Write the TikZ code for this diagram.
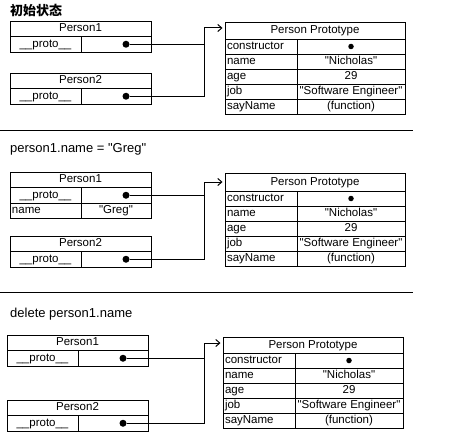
\documentclass[tikz,border=0pt]{standalone}
\usepackage{fontspec}
\setmainfont{Liberation Sans}
\newfontfamily\cjkfont{Noto Sans CJK SC}
\usetikzlibrary{arrows.meta,calc}
\newcommand{\qq}[1]{\textquotedbl#1\textquotedbl}
\tikzset{
  cell/.style={draw, line width=0.9pt, inner sep=0pt, outer sep=0pt, anchor=north west,
    font=\fontsize{11.5}{13}\selectfont, text height=8.5pt, text depth=2.5pt},
  hcell/.style={cell, minimum width=180pt},
  lcell/.style={cell, minimum height=15pt, text width=68pt, inner xsep=2pt, align=left},
  rcell/.style={cell, minimum height=15pt, minimum width=108pt},
  phead/.style={cell, minimum width=141pt, minimum height=15.5pt},
  pl/.style={cell, minimum width=71pt, minimum height=15.5pt},
  pln/.style={cell, minimum height=15.5pt, text width=67pt, inner xsep=2pt, align=left},
  pr/.style={cell, minimum width=70pt, minimum height=15.5pt},
  bigdot/.style={circle, fill, inner sep=0pt, minimum size=7pt},
  smalldot/.style={circle, fill, inner sep=0pt, minimum size=5.5pt},
  title/.style={anchor=west, inner sep=0pt, font=\fontsize{13}{15}\selectfont},
  conn/.style={line width=1pt},
  arr/.style={conn, -{Straight Barb[length=4pt,width=7pt]}, shorten >=2.5pt},
  sep/.style={line width=1pt}
}
\newcommand{\ProtoTable}[4]{%
  \node[hcell, minimum height=#4pt] (#1h) at (#2,#3) {Person Prototype};
  \node[lcell] (#1k1) at (#1h.south west) {constructor};
  \node[rcell] (#1v1) at (#1k1.north east) {};
  \node[smalldot] (#1c) at (#1v1.center) {};
  \node[lcell] (#1k2) at (#1k1.south west) {name};
  \node[rcell] (#1v2) at (#1k2.north east) {\qq{Nicholas}};
  \node[lcell] (#1k3) at (#1k2.south west) {age};
  \node[rcell] (#1v3) at (#1k3.north east) {29};
  \node[lcell] (#1k4) at (#1k3.south west) {job};
  \node[rcell] (#1v4) at (#1k4.north east) {\qq{Software Engineer}};
  \node[lcell] (#1k5) at (#1k4.south west) {sayName};
  \node[rcell] (#1v5) at (#1k5.north east) {(function)};
}
\begin{document}
\begin{tikzpicture}[x=1pt,y=-1pt]
\fill[white] (0,0) rectangle (452,441);
\useasboundingbox (0,0) rectangle (452,441);

% ---------- Section 1 ----------
\node[title] (t1) at (10,10) {\cjkfont\bfseries 初始状态};
\node[phead] (a1) at (10,21) {Person1};
\node[pl] (a1l) at (a1.south west) {\_\_proto\_\_};
\node[pr] (a1r) at (a1l.north east) {};
\node[bigdot] (a1d) at ([xshift=-25pt]a1r.east) {};
\node[phead] (a2) at (10,73) {Person2};
\node[pl] (a2l) at (a2.south west) {\_\_proto\_\_};
\node[pr] (a2r) at (a2l.north east) {};
\node[bigdot] (a2d) at ([xshift=-25pt]a2r.east) {};
\ProtoTable{pa}{225}{22}{17}
\coordinate (ja) at (204,28);
\draw[conn] (a1d) -| (ja);
\draw[arr] (a2d) -| (ja) -- (pah.west |- ja);

\draw[sep] (0,130) -- (413,130);

% ---------- Section 2 ----------
\node[title] (t2) at (10,149) {person1.name = \qq{Greg}};
\node[phead] (b1) at (10,172) {Person1};
\node[pl] (b1l) at (b1.south west) {\_\_proto\_\_};
\node[pr] (b1r) at (b1l.north east) {};
\node[bigdot] (b1d) at ([xshift=-25pt]b1r.east) {};
\node[pln] (b1n) at (b1l.south west) {name};
\node[pr] (b1g) at (b1n.north east) {\qq{Greg}};
\node[phead] (b2) at (10,236) {Person2};
\node[pl] (b2l) at (b2.south west) {\_\_proto\_\_};
\node[pr] (b2r) at (b2l.north east) {};
\node[bigdot] (b2d) at ([xshift=-25pt]b2r.east) {};
\ProtoTable{pb}{225}{173}{18}
\coordinate (jb) at (204,182);
\draw[conn] (b1d) -| (jb);
\draw[arr] (b2d) -| (jb) -- (pbh.west |- jb);

\draw[sep] (0,292) -- (413,292);

% ---------- Section 3 ----------
\node[title] (t3) at (10,314) {delete person1.name};
\node[phead] (c1) at (7,335) {Person1};
\node[pl] (c1l) at (c1.south west) {\_\_proto\_\_};
\node[pr] (c1r) at (c1l.north east) {};
\node[bigdot] (c1d) at ([xshift=-25pt]c1r.east) {};
\node[phead] (c2) at (7,400) {Person2};
\node[pl] (c2l) at (c2.south west) {\_\_proto\_\_};
\node[pr] (c2r) at (c2l.north east) {};
\node[bigdot] (c2d) at ([xshift=-25pt]c2r.east) {};
\ProtoTable{pc}{223}{337}{16}
\coordinate (jc) at (204,343);
\draw[conn] (c1d) -| (jc);
\draw[arr] (c2d) -| (jc) -- (pch.west |- jc);
\end{tikzpicture}
\end{document}
